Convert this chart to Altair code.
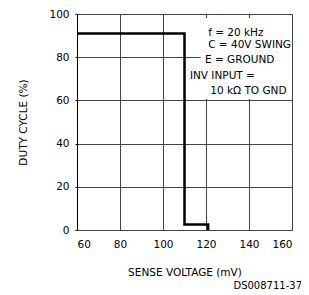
import altair as alt
import pandas as pd

# step curve
sense_mv = [60, 110, 110, 121, 121]
duty_pct = [91, 91, 2.5, 2.5, 0]
order = [0, 1, 2, 3, 4]

x_ticks = [60, 80, 100, 120, 140, 160]
y_ticks = [0, 20, 40, 60, 80, 100]

notes = ["f = 20 kHz", "C = 40V SWING", "E = GROUND", "INV INPUT =", "10 k\u03a9  TO GND"]
note_x = [121, 121, 119.5, 112.5, 122]
note_y = [91, 85.5, 78.5, 71.5, 64.5]

box_x1 = [117.5, 111.5]
box_x2 = [160, 160]
box_y1 = [60.6, 60.6]
box_y2 = [98.1, 75]

FONT = "DejaVu Sans"

curve = pd.DataFrame({"x": sense_mv, "y": duty_pct, "o": order})
note_df = pd.DataFrame({"t": notes, "x": note_x, "y": note_y})
box_df = pd.DataFrame({"x1": box_x1, "x2": box_x2, "y1": box_y1, "y2": box_y2})

xs = alt.Scale(domain=[60, 160], nice=False)
ys = alt.Scale(domain=[0, 100], nice=False)

xaxis = alt.Axis(values=x_ticks, title="SENSE VOLTAGE (mV)", grid=True,
                 gridColor="#444", gridOpacity=1, domainColor="#444",
                 tickSize=0, labelPadding=9, labelFontSize=10.5, labelColor="#000",
                 titleFontSize=10.5, titleFontWeight="normal", titlePadding=18,
                 titleColor="#000", labelFont=FONT, titleFont=FONT)
yaxis = alt.Axis(values=y_ticks, title="DUTY CYCLE (%)", grid=True,
                 gridColor="#444", gridOpacity=1, domainColor="#000",
                 tickSize=2, tickColor="#000", labelPadding=6, labelFontSize=10.5,
                 labelColor="#000", titleFontSize=10.5, titleFontWeight="normal",
                 titlePadding=20, titleColor="#000", labelFont=FONT, titleFont=FONT)

line = alt.Chart(curve).mark_line(color="#000", strokeWidth=2.5, strokeCap="butt",
                                  strokeJoin="miter").encode(
    x=alt.X("x:Q", scale=xs, axis=xaxis),
    y=alt.Y("y:Q", scale=ys, axis=yaxis),
    order="o:Q",
)

box = alt.Chart(box_df).mark_rect(color="white", opacity=1).encode(
    x=alt.X("x1:Q", scale=xs), x2="x2:Q",
    y=alt.Y("y1:Q", scale=ys), y2="y2:Q",
)

txt = alt.Chart(note_df).mark_text(align="left", baseline="middle", font=FONT,
                                   fontSize=10.5, color="#000").encode(
    x=alt.X("x:Q", scale=xs), y=alt.Y("y:Q", scale=ys), text="t:N"
)

code = alt.Chart(pd.DataFrame({"t": ["DS008711-37"]})).mark_text(
    align="right", baseline="middle", font=FONT, fontSize=10, color="#000"
).encode(x=alt.value(225), y=alt.value(272), text="t:N")

chart = alt.layer(line, box, txt, code).properties(
    width=215, height=216,
    autosize=alt.AutoSizeParams(type="none"),
    padding={"left": 69, "top": 6, "right": 9, "bottom": 64},
).configure_view(stroke="#444", strokeWidth=1).configure(background="white")

chart.save("out.html", embed_options={"renderer": "svg", "actions": False})
